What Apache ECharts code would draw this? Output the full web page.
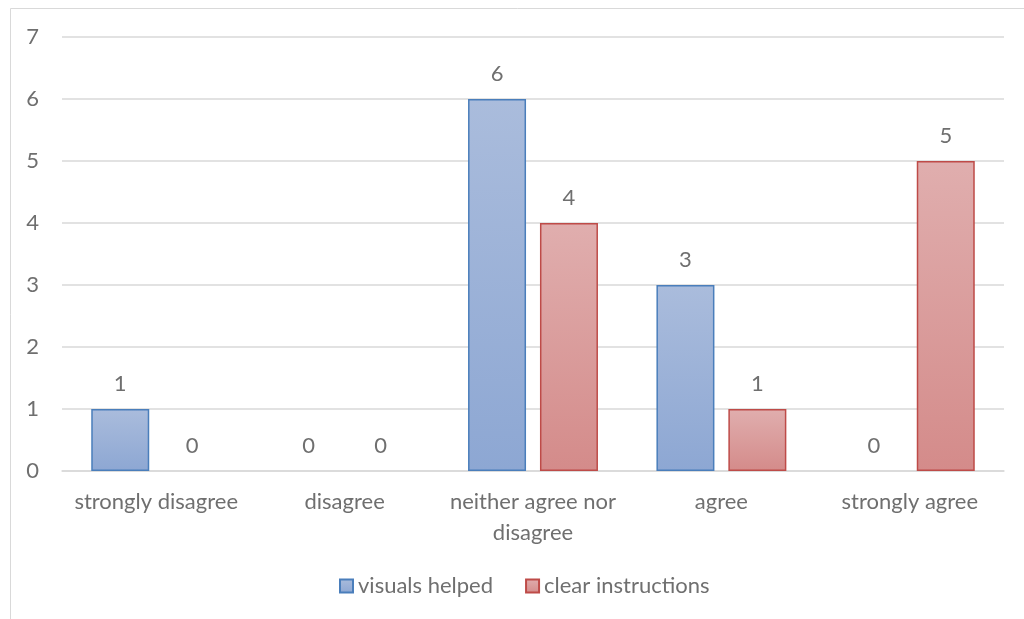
<!DOCTYPE html>
<html>
<head>
<meta charset="utf-8">
<style>
  html, body { margin: 0; padding: 0; background: #ffffff; }
  #chart { width: 1024px; height: 619px; }
</style>
<script src="https://cdn.jsdelivr.net/npm/echarts@6/dist/echarts.min.js"></script>
</head>
<body>
<div id="chart"></div>
<script>
// Survey responses per agreement level
const categories = ['strongly disagree', 'disagree', 'neither agree nor\ndisagree', 'agree', 'strongly agree'];
const visualsHelped = [1, 0, 6, 3, 0];
const clearInstructions = [0, 0, 4, 1, 5];
const yTicks = { min: 0, max: 7, interval: 1 };

const FONT = 'Lato, "Open Sans", sans-serif';
const TEXT = '#6f6f6f';
const SIZE = 22;

function grad(top, bottom) {
  return new echarts.graphic.LinearGradient(0, 0, 0, 1, [
    { offset: 0, color: top },
    { offset: 1, color: bottom }
  ]);
}

// zero-height bars get no outline so only their value label shows
function items(values) {
  return values.map(v => v === 0 ? { value: v, itemStyle: { borderWidth: 0 } } : v);
}

const label = { show: true, position: 'top', distance: 14, fontFamily: FONT, fontSize: SIZE, color: TEXT };

const chart = echarts.init(document.getElementById('chart'), null, { renderer: 'canvas' });
chart.setOption({
  backgroundColor: '#ffffff',
  animation: false,
  graphic: [{
    type: 'rect',
    shape: { x: 10.5, y: 8.5, width: 1030, height: 640 },
    style: { fill: 'none', stroke: '#d9d9d9', lineWidth: 1 },
    silent: true
  }],
  grid: { left: 62, right: 20, top: 37, bottom: 148, containLabel: false },
  legend: {
    top: 570,
    left: 334,
    itemWidth: 13,
    itemHeight: 13,
    itemGap: 32,
    icon: 'rect',
    textStyle: { fontFamily: FONT, fontSize: SIZE, color: TEXT },
    data: ['visuals helped', 'clear instructions']
  },
  xAxis: {
    type: 'category',
    data: categories,
    axisLine: { lineStyle: { color: '#d9d9d9', width: 1.5 } },
    axisTick: { show: false },
    axisLabel: { fontFamily: FONT, fontSize: SIZE, color: TEXT, margin: 15, lineHeight: 31, interval: 0 }
  },
  yAxis: {
    type: 'value',
    min: yTicks.min,
    max: yTicks.max,
    interval: yTicks.interval,
    axisLine: { show: false },
    axisTick: { show: false },
    splitLine: { lineStyle: { color: '#d9d9d9', width: 1.5 } },
    axisLabel: { fontFamily: FONT, fontSize: SIZE, color: TEXT, margin: 23 }
  },
  series: [
    {
      name: 'visuals helped',
      type: 'bar',
      data: items(visualsHelped),
      barWidth: 58,
      barGap: '24%',
      itemStyle: {
        color: grad('#aabcdc', '#8da7d3'),
        borderColor: '#4a7ebb',
        borderWidth: 1.5
      },
      label: label
    },
    {
      name: 'clear instructions',
      type: 'bar',
      data: items(clearInstructions),
      barWidth: 58,
      itemStyle: {
        color: grad('#e0aeae', '#d48b8a'),
        borderColor: '#be4b48',
        borderWidth: 1.5
      },
      label: label
    }
  ]
});
</script>
</body>
</html>
